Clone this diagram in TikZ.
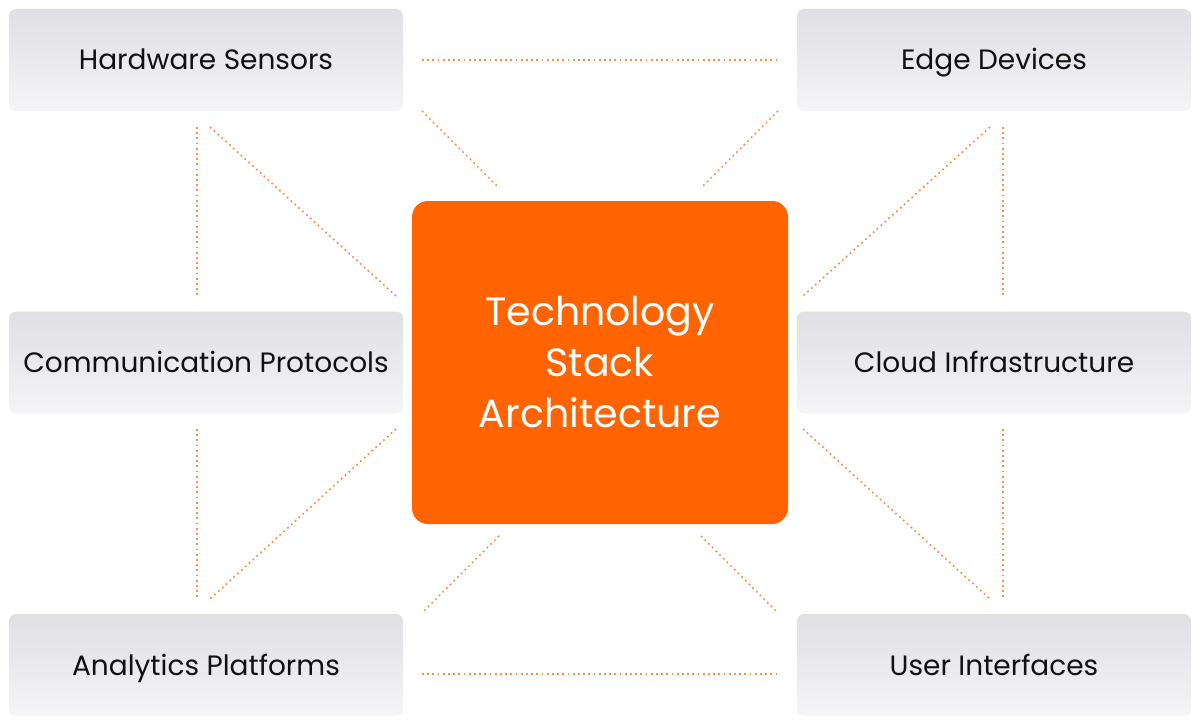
\documentclass[tikz,border=0pt]{standalone}
\usepackage{fontspec}
\setmainfont{Poppins}
\definecolor{boxtop}{RGB}{223,223,228}
\definecolor{boxbot}{RGB}{245,245,247}
\definecolor{coreorange}{RGB}{255,100,0}
\definecolor{dotorange}{RGB}{250,140,75}
\definecolor{txt}{RGB}{17,17,17}
\begin{document}
\begin{tikzpicture}[x=1pt,y=-1pt,
  itembox/.style={minimum width=394pt, minimum height=102pt, rounded corners=7pt,
    top color=boxtop, bottom color=boxbot, draw=none, inner sep=0pt,
    text height=20pt, text depth=0pt,
    text=txt, font=\fontsize{28}{33}\selectfont},
  corebox/.style={minimum width=376pt, minimum height=323pt, rounded corners=16pt,
    fill=coreorange, draw=none, text=white, align=center,
    font=\fontsize{39.5}{51}\selectfont},
  dotline/.style={draw=dotorange, line width=1.7pt, dash pattern=on 1.7pt off 3.5pt}]
\useasboundingbox (0,0) rectangle (1200,725);
\node[itembox] (hs) at (206,60) {Hardware Sensors};
\node[itembox] (ed) at (994,60) {Edge Devices};
\node[itembox] (cp) at (206,362.5) {Communication Protocols};
\node[itembox] (ci) at (994,362.5) {Cloud Infrastructure};
\node[itembox] (ap) at (206,665) {Analytics Platforms};
\node[itembox] (ui) at (994,665) {User Interfaces};
\node[corebox] (core) at (600,362.5) {Technology\\Stack\\Architecture};
% endpoints
\coordinate (a1) at (422,60);   \coordinate (a2) at (778,60);
\coordinate (b1) at (422,674);  \coordinate (b2) at (778,674);
\coordinate (c1) at (422,111);  \coordinate (c2) at (499,188);
\coordinate (d1) at (778,111);  \coordinate (d2) at (701,188);
\coordinate (e1) at (499,536);  \coordinate (e2) at (422,613);
\coordinate (f1) at (701,536);  \coordinate (f2) at (778,613);
\coordinate (g1) at (197,127);  \coordinate (g2) at (197,296);
\coordinate (h1) at (210,127);  \coordinate (h2) at (396,296);
\coordinate (i1) at (1003,127); \coordinate (i2) at (1003,296);
\coordinate (j1) at (990,127);  \coordinate (j2) at (803,296);
\coordinate (k1) at (197,429);  \coordinate (k2) at (197,599);
\coordinate (l1) at (396,429);  \coordinate (l2) at (210,599);
\coordinate (m1) at (1003,429); \coordinate (m2) at (1003,599);
\coordinate (n1) at (803,429);  \coordinate (n2) at (990,599);
\foreach \p in {a,b,c,d,e,f,g,h,i,j,k,l,m,n}
  \draw[dotline] (\p1) -- (\p2);
\end{tikzpicture}
\end{document}
